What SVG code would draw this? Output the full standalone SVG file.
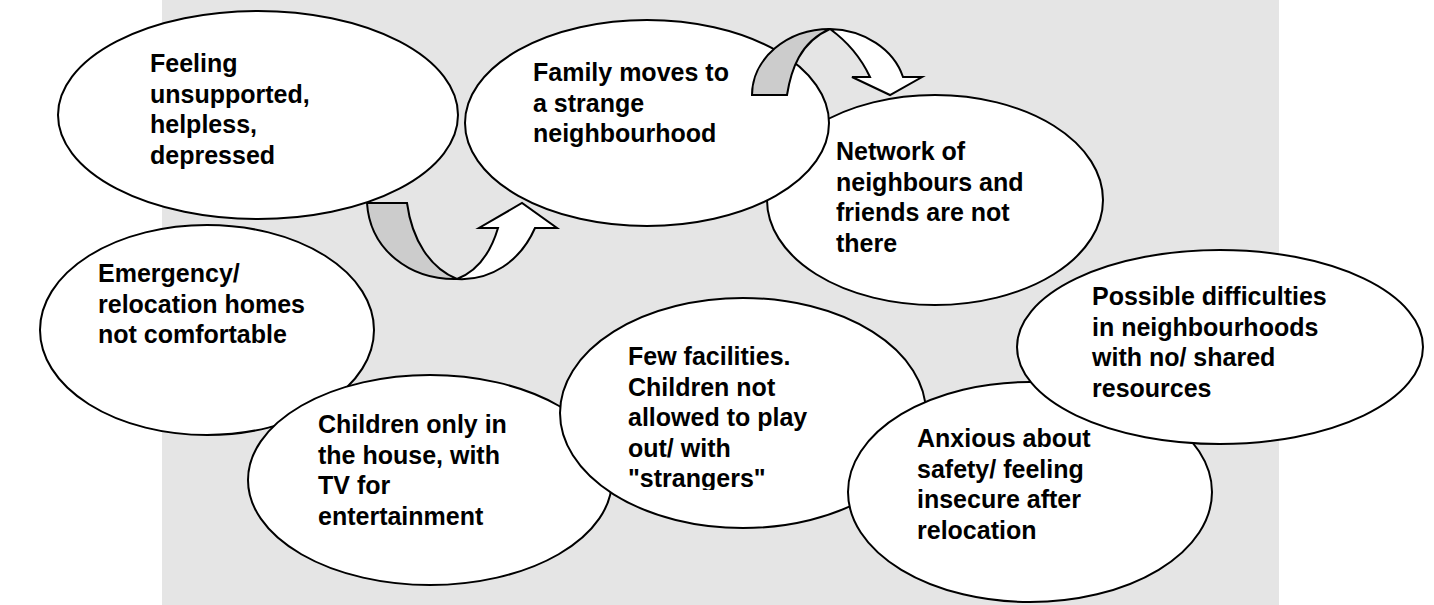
<svg xmlns="http://www.w3.org/2000/svg" width="1434" height="605" viewBox="0 0 1434 605">
<style>
.e{fill:#ffffff;stroke:#000000;stroke-width:2}
.t{font-family:"Liberation Sans",Arial,sans-serif;font-weight:bold;font-size:25px;fill:#000000}
.back{fill:#cccccc;stroke:#000000;stroke-width:2;stroke-linejoin:miter}
.front{fill:#ffffff;stroke:#000000;stroke-width:2;stroke-linejoin:miter}
</style>
<defs>
<clipPath id="clipFew"><rect x="560" y="290" width="370" height="200"/></clipPath>
</defs>
<rect x="162" y="0" width="1117" height="605" fill="#e5e5e5"/>
<g id="n-network"><ellipse class="e" cx="935" cy="200" rx="168" ry="105"/></g>
<g id="n-family"><ellipse class="e" cx="647" cy="123" rx="182" ry="103"/></g>
<g id="n-feeling"><ellipse class="e" cx="258" cy="115" rx="200" ry="104"/></g>
<g id="n-emergency"><ellipse class="e" cx="207" cy="330" rx="167" ry="105"/></g>
<g id="n-children"><ellipse class="e" cx="430" cy="480" rx="182" ry="105"/></g>
<g id="n-few"><ellipse class="e" cx="743" cy="413" rx="183" ry="115"/></g>
<g id="n-anxious"><ellipse class="e" cx="1030" cy="492" rx="182" ry="110"/></g>
<g id="n-possible"><ellipse class="e" cx="1220" cy="347" rx="203" ry="97"/></g>
<g id="connectors">
<path class="back" d="M367,203 L407,203 C412,240 430,268 457,279 C410,280 370,250 367,203 Z"/>
<path class="front" d="M457,279 C490,281 520,262 535,228 L557,228 L522,203 L479,228 L498,228 C490,255 475,272 457,279 Z"/>
<path class="back" d="M752,95 L787,95 C791,70 800,42 830,29 A78 66 0 0 0 752,95 Z"/>
<path class="front" d="M830,29 A78 66 0 0 1 903,77 L922,77 L890,95 L852,77 L870,77 C862,60 848,42 830,29 Z"/>
</g>
<g id="labels">
<text class="t" x="150" y="72">Feeling</text>
<text class="t" x="150" y="102.5">unsupported,</text>
<text class="t" x="150" y="133">helpless,</text>
<text class="t" x="150" y="163.5">depressed</text>
<text class="t" x="533" y="81">Family moves to</text>
<text class="t" x="533" y="111.5">a strange</text>
<text class="t" x="533" y="142">neighbourhood</text>
<text class="t" x="836" y="160">Network of</text>
<text class="t" x="836" y="190.5">neighbours and</text>
<text class="t" x="836" y="221">friends are not</text>
<text class="t" x="836" y="251.5">there</text>
<text class="t" x="98" y="282">Emergency/</text>
<text class="t" x="98" y="312.5">relocation homes</text>
<text class="t" x="98" y="343">not comfortable</text>
<text class="t" x="1092" y="305">Possible difficulties</text>
<text class="t" x="1092" y="335.5">in neighbourhoods</text>
<text class="t" x="1092" y="366">with no/ shared</text>
<text class="t" x="1092" y="396.5">resources</text>
<g clip-path="url(#clipFew)">
<text class="t" x="628" y="365">Few facilities.</text>
<text class="t" x="628" y="395.5">Children not</text>
<text class="t" x="628" y="426">allowed to play</text>
<text class="t" x="628" y="456.5">out/ with</text>
<text class="t" x="628" y="487">"strangers"</text>
</g>
<text class="t" x="318" y="433">Children only in</text>
<text class="t" x="318" y="463.5">the house, with</text>
<text class="t" x="318" y="494">TV for</text>
<text class="t" x="318" y="524.5">entertainment</text>
<text class="t" x="917" y="447">Anxious about</text>
<text class="t" x="917" y="477.5">safety/ feeling</text>
<text class="t" x="917" y="508">insecure after</text>
<text class="t" x="917" y="538.5">relocation</text>
</g>
</svg>
